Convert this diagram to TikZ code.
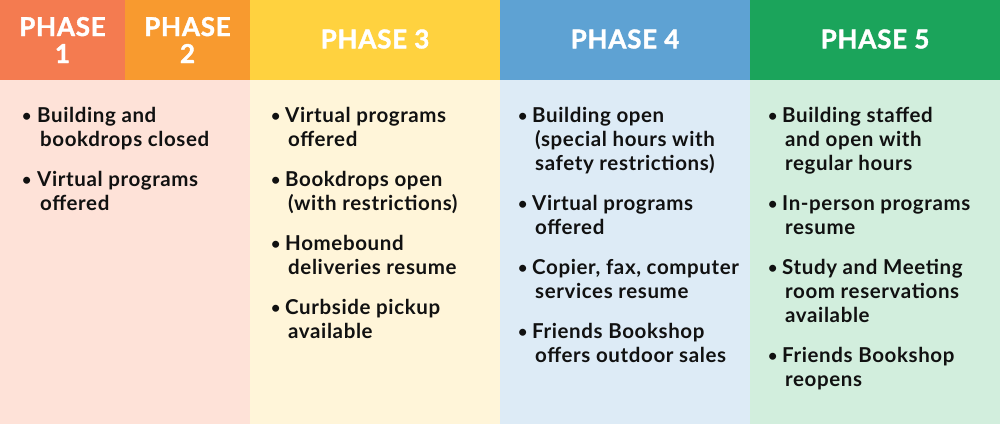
\documentclass[tikz,border=0pt]{standalone}
\usepackage{fontspec}
\setmainfont{Lato}[BoldFeatures={LetterSpace=3}]
\newfontfamily\headfont{Lato}[BoldFeatures={FakeBold=1.5,LetterSpace=3}]
\definecolor{hOne}{HTML}{F47B50}
\definecolor{hTwo}{HTML}{F89A2F}
\definecolor{hThree}{HTML}{FFD23F}
\definecolor{hFour}{HTML}{5EA2D3}
\definecolor{hFive}{HTML}{1BA45B}
\definecolor{bOne}{HTML}{FEE2D8}
\definecolor{bThree}{HTML}{FFF5D9}
\definecolor{bFour}{HTML}{DDEBF6}
\definecolor{bFive}{HTML}{D2EEDD}
\definecolor{ink}{HTML}{111111}
\newcommand{\cl}{\hspace*{3pt}}
\newcommand{\bul}[1]{\makebox[#1][l]{\fontsize{16}{16}\selectfont\raisebox{1pt}{•}}}
\tikzset{
  head/.style={text=white, font=\headfont\fontsize{26}{27}\selectfont\bfseries, align=center, inner sep=0pt},
  item/.style={anchor=base west, inner sep=0pt, text=ink, font=\fontsize{20.5}{24}\selectfont\bfseries},
}
\begin{document}
\begin{tikzpicture}[x=1pt,y=-1pt]
\useasboundingbox (0,0) rectangle (1000,424);
% bodies
\fill[bOne] (0,80) rectangle (250,424);
\fill[bThree] (250,80) rectangle (500,424);
\fill[bFour] (500,80) rectangle (750,424);
\fill[bFive] (750,80) rectangle (1000,424);
% headers
\fill[hOne] (0,0) rectangle (125,80);
\fill[hTwo] (125,0) rectangle (250,80);
\fill[hThree] (250,0) rectangle (500,80);
\fill[hFour] (500,0) rectangle (750,80);
\fill[hFive] (750,0) rectangle (1000,80);
\node[head] (h1) at (62.5,40) {PHASE\\1};
\node[head] (h2) at (187.5,40) {PHASE\\2};
\node[head] (h3) at (375,39) {PHASE 3};
\node[head] (h4) at (625,39) {PHASE 4};
\node[head] (h5) at (875,39) {PHASE 5};
% phase 1-2
\node[item] (a1) at (22,122) {\bul{15pt}\begin{tabular}[t]{@{}l@{}}Building and\\ \cl bookdrops closed\end{tabular}};
\node[item] (a2) at (22,186) {\bul{15pt}\begin{tabular}[t]{@{}l@{}}Virtual programs\\ \cl offered\end{tabular}};
% phase 3
\node[item] (c1) at (271,122) {\bul{14pt}\begin{tabular}[t]{@{}l@{}}Virtual programs\\ \cl offered\end{tabular}};
\node[item] (c2) at (271,186) {\bul{14pt}\begin{tabular}[t]{@{}l@{}}Bookdrops open\\ \cl (with restrictions)\end{tabular}};
\node[item] (c3) at (271,250) {\bul{14pt}\begin{tabular}[t]{@{}l@{}}Homebound\\ \cl deliveries resume\end{tabular}};
\node[item] (c4) at (271,314) {\bul{14pt}\begin{tabular}[t]{@{}l@{}}Curbside pickup\\ \cl available\end{tabular}};
% phase 4
\node[item] (d1) at (518,122) {\bul{14pt}\begin{tabular}[t]{@{}l@{}}Building open\\ \cl (special hours with\\ \cl safety restrictions)\end{tabular}};
\node[item] (d2) at (518,210) {\bul{14pt}\begin{tabular}[t]{@{}l@{}}Virtual programs\\ \cl offered\end{tabular}};
\node[item] (d3) at (518,274) {\bul{14pt}\begin{tabular}[t]{@{}l@{}}Copier, fax, computer\\ \cl services resume\end{tabular}};
\node[item] (d4) at (518,338) {\bul{14pt}\begin{tabular}[t]{@{}l@{}}Friends Bookshop\\ \cl offers outdoor sales\end{tabular}};
% phase 5
\node[item] (e1) at (768,122) {\bul{14pt}\begin{tabular}[t]{@{}l@{}}Building staffed\\ \cl and open with\\ \cl regular hours\end{tabular}};
\node[item] (e2) at (768,210) {\bul{14pt}\begin{tabular}[t]{@{}l@{}}In-person programs\\ \cl resume\end{tabular}};
\node[item] (e3) at (768,274) {\bul{14pt}\begin{tabular}[t]{@{}l@{}}Study and Meeting\\ \cl room reservations\\ \cl available\end{tabular}};
\node[item] (e4) at (768,362) {\bul{14pt}\begin{tabular}[t]{@{}l@{}}Friends Bookshop\\ \cl reopens\end{tabular}};
\end{tikzpicture}
\end{document}
